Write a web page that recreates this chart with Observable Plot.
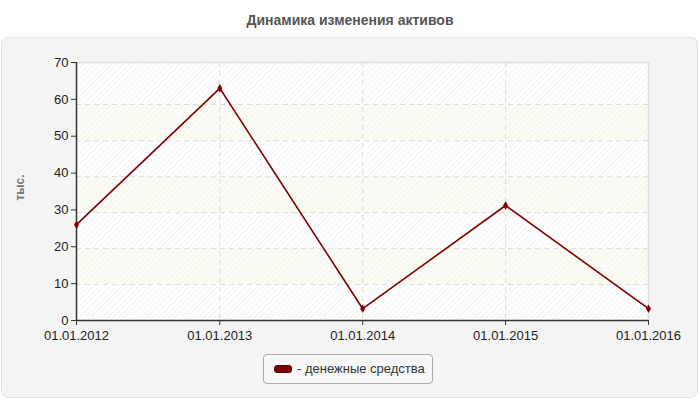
<!DOCTYPE html>
<html>
<head>
<meta charset="utf-8">
<script src="https://cdn.jsdelivr.net/npm/d3@7"></script>
<script src="https://cdn.jsdelivr.net/npm/@observablehq/plot@0.6"></script>
<style>
  html, body { margin: 0; padding: 0; background: #fff; width: 700px; height: 400px; overflow: hidden; font-family: "Liberation Sans", Arial, sans-serif; }
  #title { position: absolute; left: 0; top: 12px; width: 700px; text-align: center; font-size: 14px; font-weight: bold; color: #555; }
  #panel { position: absolute; left: 1px; top: 37px; width: 695px; height: 359px; background: #f4f4f4; border: 1px solid #e2e2e2; border-radius: 7px; }
  #chart { position: absolute; left: 0; top: 0; }
  #legend { position: absolute; left: 263px; top: 354px; width: 170px; height: 30px; border: 1px solid #aaa; border-radius: 4px; background: #f7f7f7; box-sizing: border-box; font-size: 13px; color: #333; }
  #legend .sw { position: absolute; left: 10px; top: 10px; width: 18px; height: 8px; background: #800000; border: 1px solid #5a0000; border-radius: 3px; box-sizing: border-box; }
  #legend .tx { position: absolute; left: 33px; top: 6px; white-space: nowrap; }
</style>
</head>
<body>
<div id="title">Динамика изменения активов</div>
<div id="panel"></div>
<div id="chart"></div>
<div id="legend"><div class="sw"></div><div class="tx">- денежные средства</div></div>
<script>
const dates = ["2012-01-01", "2013-01-01", "2014-01-01", "2015-01-01", "2016-01-01"];
const values = [26.0, 63.0, 3.2, 31.2, 3.2];
const yTicks = [0, 10, 20, 30, 40, 50, 60, 70];
const gridY = [9.75, 19.5, 29.25, 39.0, 48.75, 58.6];
const seriesName = "денежные средства";

const parsed = dates.map(d => new Date(d + "T00:00:00Z"));
const data = parsed.map((d, i) => ({date: d, value: values[i]}));
const xStart = parsed[0], xEnd = parsed[parsed.length - 1];
const inner = parsed.slice(1, -1);

const edges = [0, ...gridY, 70];
const bands = [];
for (let i = 0; i < edges.length - 1; i++) {
  bands.push({y1: edges[i], y2: edges[i + 1], cream: i % 2 === 1});
}
const fmt = d3.utcFormat("%d.%m.%Y");

const chart = Plot.plot({
  width: 700,
  height: 400,
  marginLeft: 76,
  marginRight: 52,
  marginTop: 62,
  marginBottom: 80,
  style: {background: "transparent", fontFamily: "Liberation Sans, Arial, sans-serif", fontSize: "13px", color: "#222"},
  x: {type: "utc", domain: [xStart, xEnd]},
  y: {domain: [0, 70]},
  marks: [
    Plot.rect(bands, {x1: () => xStart, x2: () => xEnd, y1: "y1", y2: "y2", fill: d => d.cream ? "#fcfcf4" : "#ffffff"}),
    Plot.rect([0], {x1: () => xStart, x2: () => xEnd, y1: () => 0, y2: () => 70, fill: "url(#hatch)"}),
    Plot.ruleY(gridY, {stroke: "#dcdcdc", strokeWidth: 1, strokeDasharray: "5,4"}),
    Plot.ruleX(inner, {stroke: "#dcdcdc", strokeWidth: 1, strokeDasharray: "5,4"}),
    Plot.ruleY([70], {stroke: "#dddddd", strokeWidth: 1.5}),
    Plot.ruleX([xEnd], {stroke: "#dddddd", strokeWidth: 1.5}),
    Plot.axisY({ticks: yTicks, tickSize: 5, tickPadding: 3, stroke: "#333", fill: "#222", fontSize: 13, label: null}),
    Plot.axisX({ticks: parsed, tickSize: 5, tickPadding: 5, tickFormat: fmt, stroke: "#333", fill: "#222", fontSize: 13, label: null}),
    Plot.ruleX([xStart], {stroke: "#333", strokeWidth: 1.5}),
    Plot.ruleY([0], {stroke: "#333", strokeWidth: 1.5}),
    Plot.line(data, {x: "date", y: "value", stroke: "#800000", strokeWidth: 1.6}),
    Plot.dot(data, {x: "date", y: "value", symbol: "diamond", r: 2.6, fill: "#800000"}),
    Plot.text(["тыс."], {frameAnchor: "left", textAnchor: "middle", dx: -56, dy: -4, rotate: -90, fill: "#777", fontWeight: "bold", fontSize: 12, text: d => d})
  ]
});

const svg = d3.select(chart);
const defs = svg.insert("defs", ":first-child");
const pat = defs.append("pattern").attr("id", "hatch").attr("patternUnits", "userSpaceOnUse")
  .attr("width", 4).attr("height", 4).attr("patternTransform", "rotate(45)");
pat.append("line").attr("x1", 0).attr("y1", 0).attr("x2", 0).attr("y2", 4)
  .attr("stroke", "#ececec").attr("stroke-width", 1.2);

document.getElementById("chart").appendChild(chart);
</script>
</body>
</html>
